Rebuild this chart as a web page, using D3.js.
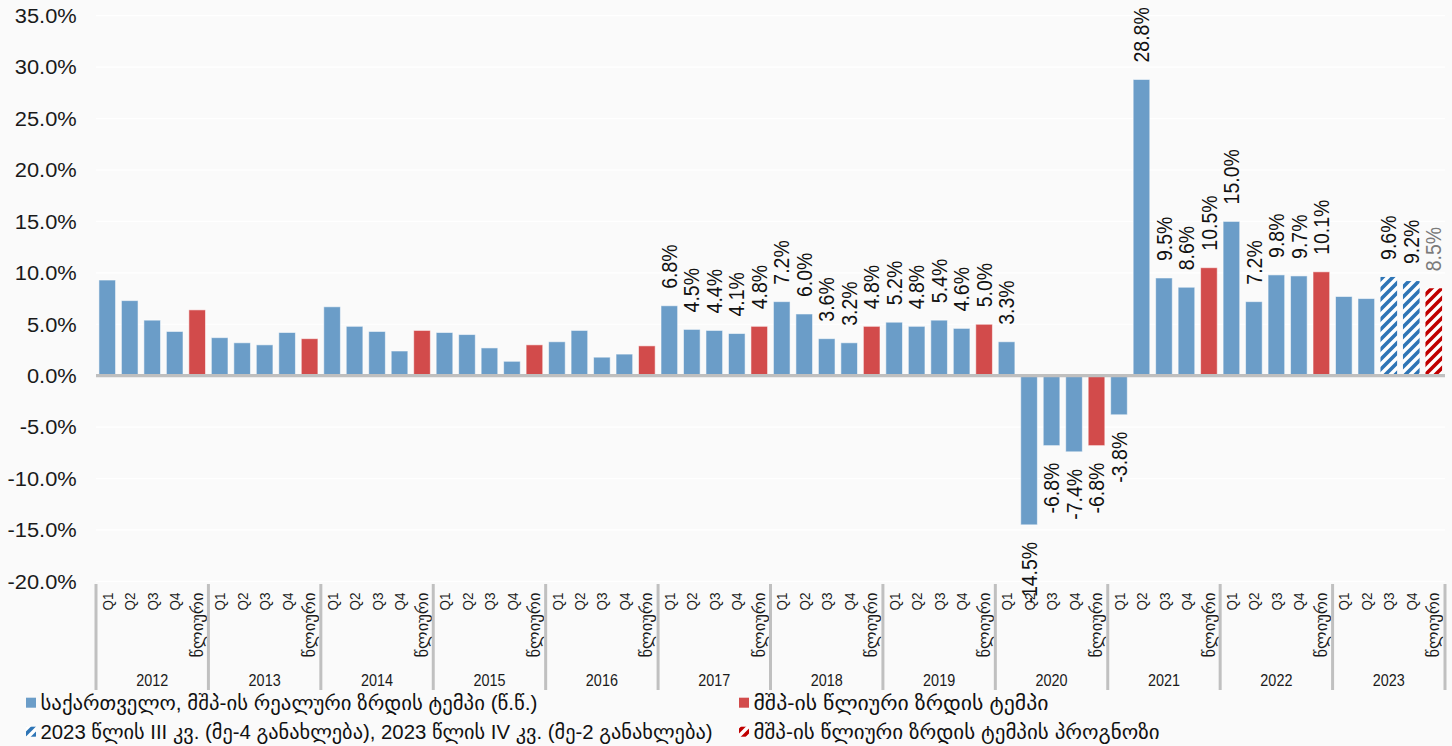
<!DOCTYPE html>
<html>
<head>
<meta charset="utf-8">
<script src="https://cdn.jsdelivr.net/npm/d3@7"></script>
<style>
  html, body { margin: 0; padding: 0; background: #fafafa; }
  svg { display: block; }
</style>
</head>
<body>
<svg id="chart" width="1452" height="746"></svg>
<script>
// Georgia, real GDP growth (y/y, %) by quarter, with annual growth per year
const years = [2012, 2013, 2014, 2015, 2016, 2017, 2018, 2019, 2020, 2021, 2022, 2023];
const quarterLabels = ["Q1", "Q2", "Q3", "Q4"];
const annualLabel = "წლიური";

const quarterlyGrowth = [
  9.3, 7.3, 5.4, 4.3,
  3.7, 3.2, 3.0, 4.2,
  6.7, 4.8, 4.3, 2.4,
  4.2, 4.0, 2.7, 1.4,
  3.3, 4.4, 1.8, 2.1,
  6.8, 4.5, 4.4, 4.1,
  7.2, 6.0, 3.6, 3.2,
  5.2, 4.8, 5.4, 4.6,
  3.3, -14.5, -6.8, -7.4,
  -3.8, 28.8, 9.5, 8.6,
  15.0, 7.2, 9.8, 9.7,
  7.7, 7.5, 9.6, 9.2
];
const annualGrowth = [6.4, 3.6, 4.4, 3.0, 2.9, 4.8, 4.8, 5.0, -6.8, 10.5, 10.1, 8.5];

const yTicks = [-20, -15, -10, -5, 0, 5, 10, 15, 20, 25, 30, 35];

const labelledFromYear = 2017;
const unlabelledPeriods = ["2023 Q1", "2023 Q2"];
const estimatedPeriods = ["2023 Q3", "2023 Q4"];
const forecastYears = [2023];

const legendLabels = [
  "საქართველო, მშპ-ის რეალური ზრდის ტემპი (წ.წ.)",
  "მშპ-ის წლიური ზრდის ტემპი",
  "2023 წლის III კვ. (მე-4 განახლება), 2023 წლის IV კვ. (მე-2 განახლება)",
  "მშპ-ის წლიური ზრდის ტემპის პროგნოზი"
];

// ---- rows: four quarters followed by the annual figure, per year
const rows = [];
years.forEach((yr, i) => {
  quarterLabels.forEach((q, j) => {
    const key = yr + " " + q;
    rows.push({
      key, year: yr, period: q, value: quarterlyGrowth[i * 4 + j],
      kind: estimatedPeriods.includes(key) ? "estimate" : "quarter"
    });
  });
  rows.push({
    key: yr + " A", year: yr, period: annualLabel, value: annualGrowth[i],
    kind: forecastYears.includes(yr) ? "forecast" : "annual"
  });
});

const FONT = "'Liberation Sans', Arial, 'DejaVu Sans', sans-serif";
const COLORS = { quarter: "#6b9dc8", annual: "#d24b4b", hatchBlue: "#2e75b6", hatchRed: "#c00000" };
const STRETCH = 1.12;

const svg = d3.select("#chart");
svg.append("rect").attr("width", 1452).attr("height", 746).attr("fill", "#fafafa");

const plot = { left: 96, right: 1445, top: 15.7, bottom: 581.4 };

const x = d3.scaleBand()
  .domain(rows.map(d => d.key))
  .range([plot.left, plot.right])
  .paddingInner(0.26)
  .paddingOuter(0.13);

const xYear = d3.scaleBand().domain(years).range([plot.left, plot.right]);

const y = d3.scaleLinear().domain([-20, 35]).range([plot.bottom, plot.top]);

// ---- hatch patterns
const defs = svg.append("defs");
function hatch(id, color) {
  const p = defs.append("pattern")
    .attr("id", id)
    .attr("patternUnits", "userSpaceOnUse")
    .attr("width", 10).attr("height", 10);
  p.append("rect").attr("width", 10).attr("height", 10).attr("fill", "#ffffff");
  p.append("path")
    .attr("d", "M-2.5,2.5 l5,-5 M0,10 l10,-10 M7.5,12.5 l5,-5")
    .attr("stroke", color).attr("stroke-width", 3.6);
}
hatch("hatchBlue", COLORS.hatchBlue);
hatch("hatchRed", COLORS.hatchRed);

const fillFor = k => k === "quarter" ? COLORS.quarter
  : k === "annual" ? COLORS.annual
  : k === "estimate" ? "url(#hatchBlue)" : "url(#hatchRed)";

// ---- gridlines
svg.append("g")
  .selectAll("line")
  .data(yTicks.filter(t => t !== 0))
  .join("line")
  .attr("x1", plot.left).attr("x2", plot.right)
  .attr("y1", d => y(d)).attr("y2", d => y(d))
  .attr("stroke", "#ffffff").attr("stroke-width", 1.2);

// ---- y axis labels
const yAxis = svg.append("g")
  .attr("transform", `translate(76.7,0)`)
  .call(d3.axisLeft(y).tickValues(yTicks).tickSize(0).tickPadding(0)
    .tickFormat(d => d.toFixed(1) + "%"));
yAxis.select(".domain").remove();
yAxis.selectAll("text")
  .attr("x", 0)
  .attr("dy", "0.35em")
  .attr("transform", `scale(${STRETCH},1)`)
  .attr("font-family", FONT)
  .attr("font-size", 19.5)
  .attr("fill", "#1a1a1a");

// ---- bars
svg.append("g")
  .selectAll("rect")
  .data(rows)
  .join("rect")
  .attr("x", d => x(d.key))
  .attr("width", x.bandwidth())
  .attr("y", d => y(Math.max(0, d.value)))
  .attr("height", d => Math.abs(y(d.value) - y(0)))
  .attr("fill", d => fillFor(d.kind))
  .attr("stroke", d => (d.kind === "quarter" || d.kind === "annual") ? "rgba(255,255,255,0.55)" : "none")
  .attr("stroke-width", 1);

// ---- zero line
svg.append("line")
  .attr("x1", plot.left).attr("x2", plot.right)
  .attr("y1", y(0)).attr("y2", y(0))
  .attr("stroke", "#bfbfbf").attr("stroke-width", 3.2);

// ---- value labels
const GAP = 17;
svg.append("g")
  .selectAll("text")
  .data(rows.filter(d => d.year >= labelledFromYear && !unlabelledPeriods.includes(d.key)))
  .join("text")
  .attr("transform", d => {
    const cx = x(d.key) + x.bandwidth() / 2;
    const yy = d.value >= 0 ? y(d.value) - GAP : y(d.value) + GAP;
    return `translate(${cx},${yy}) scale(${STRETCH},1) rotate(-90)`;
  })
  .attr("text-anchor", d => d.value >= 0 ? "start" : "end")
  .attr("dy", "0.35em")
  .attr("font-family", FONT)
  .attr("font-size", 19.5)
  .attr("fill", d => d.kind === "forecast" ? "#7a7a7a" : "#111111")
  .text(d => d.value.toFixed(1) + "%");

// ---- category axis: period labels
const xAxis = svg.append("g")
  .attr("transform", `translate(0,592.5)`)
  .call(d3.axisBottom(x).tickSize(0).tickPadding(0)
    .tickFormat(k => rows.find(r => r.key === k).period));
xAxis.select(".domain").remove();
xAxis.selectAll("text")
  .attr("x", 0).attr("y", 0)
  .attr("dy", "0.36em")
  .attr("transform", "scale(1.15,1) rotate(-90)")
  .attr("text-anchor", "end")
  .attr("font-family", FONT)
  .attr("font-size", 13.5)
  .attr("fill", "#1a1a1a");
xAxis.selectAll("text")
  .filter(k => k.endsWith(" A"))
  .attr("textLength", 65)
  .attr("lengthAdjust", "spacingAndGlyphs");

// ---- year separators and year labels
const bounds = years.map(yr => xYear(yr)).concat([plot.right]);
svg.append("g")
  .selectAll("line")
  .data(bounds)
  .join("line")
  .attr("x1", d => d).attr("x2", d => d)
  .attr("y1", 584).attr("y2", 690)
  .attr("stroke", "#c0c0c0").attr("stroke-width", 3);

svg.append("g")
  .selectAll("text")
  .data(years)
  .join("text")
  .attr("transform", d => `translate(${xYear(d) + xYear.bandwidth() / 2},680.5) scale(0.9,1)`)
  .attr("dy", "0.35em")
  .attr("text-anchor", "middle")
  .attr("font-family", FONT)
  .attr("font-size", 16)
  .attr("fill", "#1a1a1a")
  .text(d => d);

// ---- legend
const legendItems = [
  { label: legendLabels[0], fill: COLORS.quarter, x: 26, y: 702.7, width: 497 },
  { label: legendLabels[1], fill: COLORS.annual, x: 739, y: 702.7, width: 295 },
  { label: legendLabels[2], fill: "url(#hatchBlue)", x: 26, y: 731.7, width: 672 },
  { label: legendLabels[3], fill: "url(#hatchRed)", x: 739, y: 731.7, width: 406 }
];
const legend = svg.append("g")
  .selectAll("g")
  .data(legendItems)
  .join("g");
legend.append("rect")
  .attr("x", d => d.x).attr("y", d => d.y - 5)
  .attr("width", 10).attr("height", 10)
  .attr("fill", d => d.fill);
legend.append("text")
  .attr("x", d => d.x + 14.5)
  .attr("y", d => d.y)
  .attr("dy", "0.35em")
  .attr("font-family", FONT)
  .attr("font-size", 19.5)
  .attr("fill", "#111111")
  .attr("textLength", d => d.width)
  .attr("lengthAdjust", "spacingAndGlyphs")
  .text(d => d.label);
</script>
</body>
</html>
